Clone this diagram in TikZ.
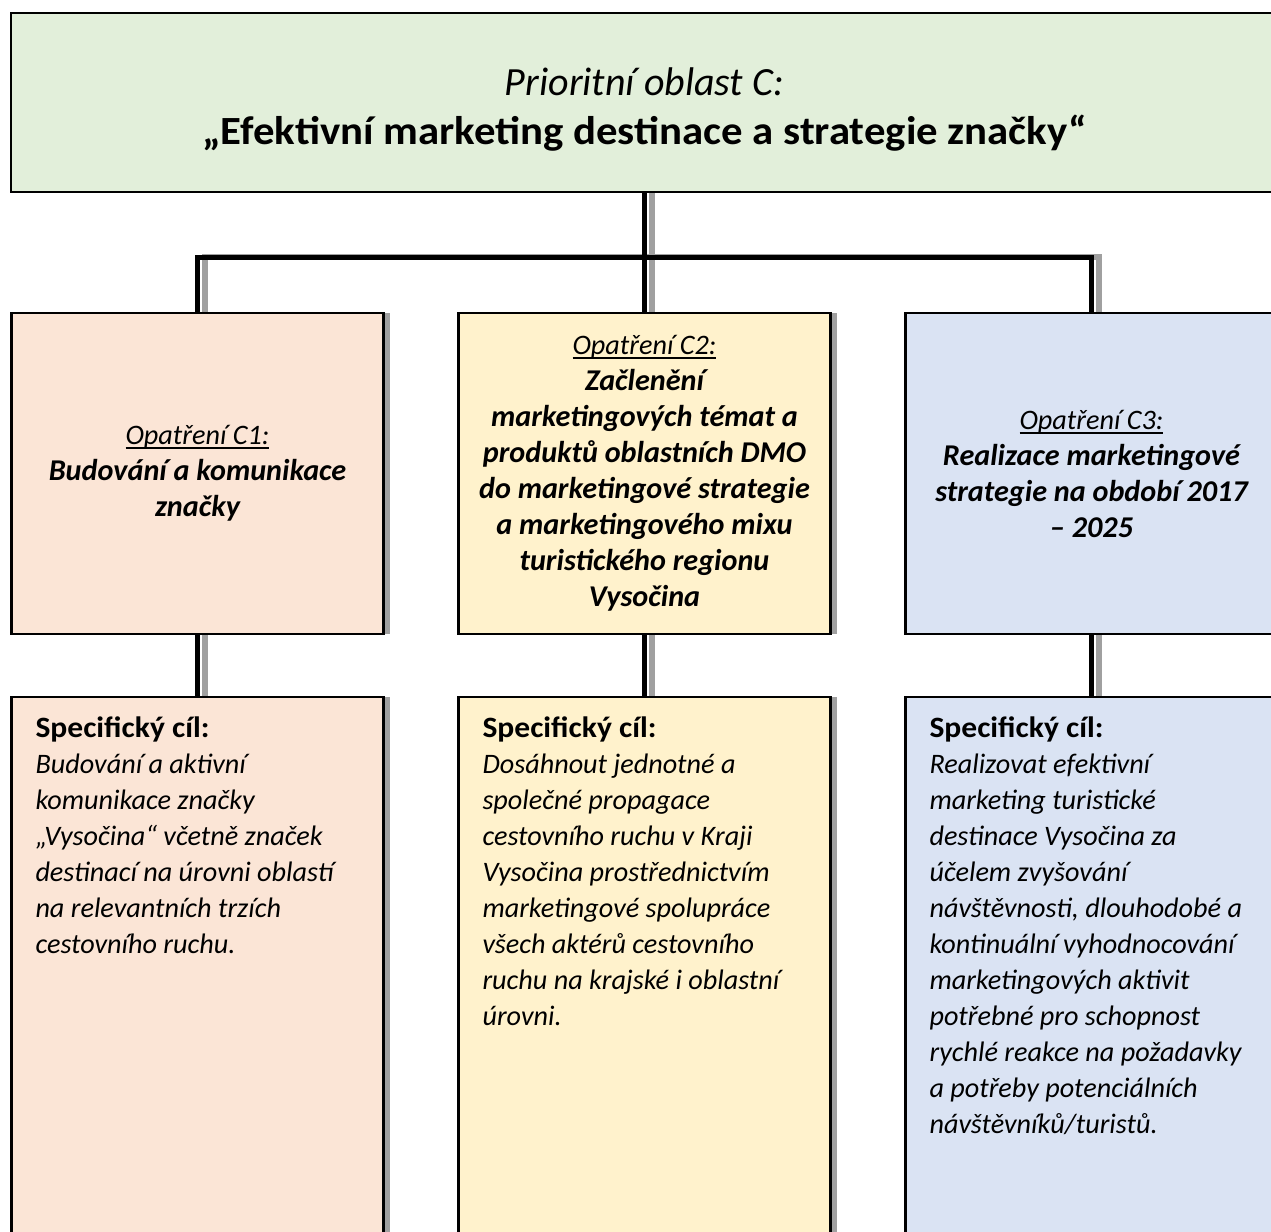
\documentclass[tikz,border=0pt]{standalone}
\usepackage{fontspec}
\setmainfont{Carlito}[BoldFeatures={FakeStretch=1.07}]
\usetikzlibrary{positioning,shadows}

\definecolor{headgreen}{HTML}{E2EFDA}
\definecolor{peach}{HTML}{FBE5D6}
\definecolor{cream}{HTML}{FFF2CC}
\definecolor{paleblue}{HTML}{DAE3F3}
\definecolor{shadowgray}{HTML}{A0A0A0}

\newsavebox{\opatbox}
\newcommand{\opat}[1]{\sbox{\opatbox}{\fontsize{28.2}{36}\selectfont\itshape #1}\rlap{\rule[-4.5pt]{\wd\opatbox}{1.8pt}}\usebox{\opatbox}}
\newcommand{\goalfont}{\fontsize{28.2}{36}\selectfont\itshape}

\begin{document}
\begin{tikzpicture}[x=1pt, y=1pt,
	head/.style={rectangle, draw=black, line width=2.5pt, fill=headgreen, minimum width=1267pt, minimum height=179pt, text height=95pt, text depth=12pt, align=center, font=\fontsize{40}{49}\selectfont},
	main/.style={rectangle, draw=black, line width=2.5pt, minimum width=372pt, minimum height=321pt, text width=360pt, inner sep=0pt, align=flush center, font=\fontsize{30.2}{36}\selectfont, drop shadow={shadow xshift=6pt, shadow yshift=0pt, fill=shadowgray, opacity=1}},
	goal/.style={rectangle, draw=black, line width=2.5pt, text width=324pt, inner xsep=24pt, inner ysep=18pt, text height=22pt, text depth=520pt, align=flush left, font=\fontsize{29.5}{36}\selectfont, drop shadow={shadow xshift=6pt, shadow yshift=0pt, fill=shadowgray, opacity=1}},
	link/.style={line width=5pt, black},
	linkshadow/.style={line width=6pt, shadowgray, transform canvas={xshift=7pt}}
	]

	\useasboundingbox (0,0) rectangle (1271,-1231);

	\node (top) [head] at (644.5,-102.5) {{\itshape Prioritní oblast C:}\\ \textbf{„Efektivní marketing destinace a strategie značky“}};

		\node (c2) [main, fill=cream, below=118.5pt of top] {\opat{Opatření C2:}\\ {\bfseries\itshape Začlenění\\ marketingových témat a\\ produktů oblastních DMO\\ do marketingové strategie\\ a marketingového mixu\\ turistického regionu\\ Vysočina}};
		\node (c1) [main, fill=peach, left=72.5pt of c2] {\opat{Opatření C1:}\\ {\bfseries\itshape Budování a komunikace\\ značky}};
		\node (c3) [main, fill=paleblue, right=72.5pt of c2] {\opat{Opatření C3:}\\ {\bfseries\itshape Realizace marketingové\\ strategie na období 2017\\ – 2025}};

			\node (g1) [goal, fill=peach, below=60.5pt of c1] {\textbf{Specifický cíl:}\\ {\goalfont Budování a aktivní\\ komunikace značky\\ „Vysočina“ včetně značek\\ destinací na úrovni oblastí\\ na relevantních trzích\\ cestovního ruchu.}};
			\node (g2) [goal, fill=cream, below=60.5pt of c2] {\textbf{Specifický cíl:}\\ {\goalfont Dosáhnout jednotné a\\ společné propagace\\ cestovního ruchu v Kraji\\ Vysočina prostřednictvím\\ marketingové spolupráce\\ všech aktérů cestovního\\ ruchu na krajské i oblastní\\ úrovni.}};
			\node (g3) [goal, fill=paleblue, below=60.5pt of c3] {\textbf{Specifický cíl:}\\ {\goalfont Realizovat efektivní\\ marketing turistické\\ destinace Vysočina za\\ účelem zvyšování\\ návštěvnosti, dlouhodobé a\\ kontinuální vyhodnocování\\ marketingových aktivit\\ potřebné pro schopnost\\ rychlé reakce na požadavky\\ a potřeby potenciálních\\ návštěvníků/turistů.}};

	\coordinate (hub) at ([yshift=-64pt]top.south);

	\draw [linkshadow] (c1.north) |- (hub) -| (c3.north);
	\draw [linkshadow] (top.south) -- (c2.north);
	\draw [linkshadow] (c1.south) -- (g1.north);
	\draw [linkshadow] (c2.south) -- (g2.north);
	\draw [linkshadow] (c3.south) -- (g3.north);

	\draw [link] (c1.north) |- (hub) -| (c3.north);
	\draw [link] (top.south) -- (c2.north);
	\draw [link] (c1.south) -- (g1.north);
	\draw [link] (c2.south) -- (g2.north);
	\draw [link] (c3.south) -- (g3.north);

\end{tikzpicture}
\end{document}
